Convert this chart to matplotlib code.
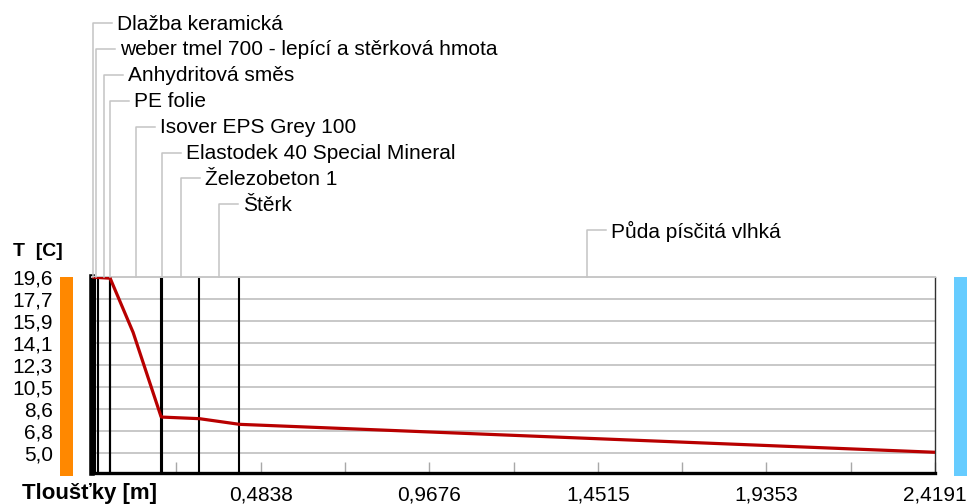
import matplotlib
matplotlib.use('Agg')
import matplotlib.pyplot as plt
from matplotlib.lines import Line2D
from matplotlib.patches import Rectangle
from matplotlib.transforms import IdentityTransform

# layers of the construction, top to bottom, with thickness in m
layers = ['Dlažba keramická', 'weber tmel 700 - lepící a stěrková hmota',
          'Anhydritová směs', 'PE folie', 'Isover EPS Grey 100',
          'Elastodek 40 Special Mineral', 'Železobeton 1', 'Štěrk',
          'Půda písčitá vlhká']
thickness = [0.008, 0.008, 0.036, 0.0002, 0.146, 0.004, 0.106, 0.115, 1.9959]

# temperature profile
depth = [0.0, 0.008, 0.016, 0.052, 0.118, 0.1982, 0.2022, 0.3082, 0.4232, 2.4191]
temp = [19.6, 19.58, 19.56, 19.5, 15.0, 8.0, 7.97, 7.84, 7.37, 5.05]

y_ticks = [19.6, 17.775, 15.95, 14.125, 12.3, 10.475, 8.65, 6.825, 5.0]
y_labels = ['19,6', '17,7', '15,9', '14,1', '12,3', '10,5', '8,6', '6,8', '5,0']
x_ticks = [0.4838, 0.9676, 1.4515, 1.9353, 2.4191]
x_labels = ['0,4838', '0,9676', '1,4515', '1,9353', '2,4191']
x_minor = [0.2419, 0.7257, 1.2096, 1.6934, 2.1772]

plt.rcParams['font.family'] = ['Liberation Sans', 'DejaVu Sans']
FS = 15

W, H = 968, 504
fig = plt.figure(figsize=(W / 100, H / 100), dpi=100)
ax = fig.add_axes([92 / W, (H - 473) / H, (935 - 92) / W, (473 - 277) / H])
ax.set_xlim(0, 2.4191)
ax.set_ylim(3.33, 19.6)

# grid
ax.set_yticks(y_ticks, y_labels)
ax.yaxis.grid(True, color='#C8C8C8', lw=1.4, zorder=0)
ax.tick_params(axis='y', length=0, pad=28, labelsize=FS)
ax.set_xticks(x_ticks, x_labels)
ax.set_xticks(x_minor, minor=True)
ax.tick_params(axis='x', which='both', direction='in', length=8, width=1,
               color='#A8A8A8', labelsize=FS, pad=9)
ax.set_axisbelow(True)

ax.spines['top'].set_color('#C8C8C8')
ax.spines['top'].set_linewidth(1.4)
ax.spines['right'].set_color('#303030')
ax.spines['right'].set_linewidth(1)
ax.spines['bottom'].set_color('black')
ax.spines['bottom'].set_linewidth(2.4)
ax.spines['left'].set_color('black')
ax.spines['left'].set_linewidth(4)

# layer boundaries
bounds = []
acc = 0.0
for t in thickness[:-1]:
    acc += t
    bounds.append(acc)
ax.vlines(bounds, 3.33, 19.6, color='black', lw=1.5, zorder=2)

# temperature
ax.plot(depth, temp, color='#B80000', lw=2.3, zorder=3)

# side bars (interior / exterior)
fig.add_artist(Rectangle((60 / W, (H - 476) / H), 13 / W, 199 / H,
                         transform=fig.transFigure, color='#FF8800', lw=0))
fig.add_artist(Rectangle((954 / W, (H - 476) / H), 13 / W, 199 / H,
                         transform=fig.transFigure, color='#66CCFF', lw=0))

# layer names with leaders
ident = IdentityTransform()
top_px = H - 277
start = 0.0
for i, (name, t) in enumerate(zip(layers, thickness)):
    mid = start + t / 2
    start += t
    xp = ax.transData.transform((mid, 0))[0]
    yp = H - (23 + 25.9 * i)
    fig.add_artist(Line2D([xp, xp, xp + 19], [top_px, yp, yp], transform=ident,
                          color='#C4C4C4', lw=1.1))
    fig.text(xp + 24, yp - 1, name, transform=ident, fontsize=FS,
             ha='left', va='center')

fig.text(13, H - 251, 'T  [C]', transform=ident, fontsize=FS - 1,
         fontweight='bold', ha='left', va='center')
fig.text(22, H - 494, 'Tloušťky [m]', transform=ident, fontsize=FS + 1,
         fontweight='bold', ha='left', va='center')

fig.savefig('out.png', dpi=100)
